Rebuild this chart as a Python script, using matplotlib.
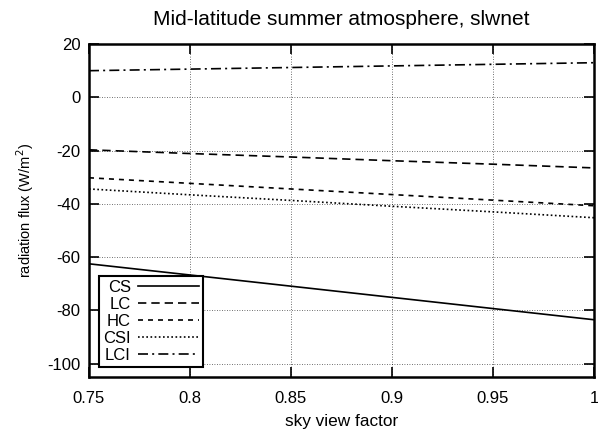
import numpy as np
import matplotlib.pyplot as plt

plt.rcParams['font.family'] = ['Liberation Sans', 'DejaVu Sans']
plt.rcParams['axes.unicode_minus'] = False

# sky view factor samples and net longwave flux per case (W/m^2)
svf = [0.75, 0.8, 0.85, 0.9, 0.95, 1.0]
cs = [-62.5, -66.7, -70.9, -75.1, -79.3, -83.5]
lc = [-19.7, -21.1, -22.4, -23.8, -25.1, -26.5]
hc = [-30.2, -32.3, -34.4, -36.5, -38.6, -40.7]
csi = [-34.4, -36.6, -38.7, -40.9, -43.0, -45.2]
lci = [10.0, 10.6, 11.2, 11.8, 12.4, 13.0]

series = [
    ("CS", cs, "-"),
    ("LC", lc, (0, (5, 3))),
    ("HC", hc, (0, (3, 3))),
    ("CSI", csi, (0, (1, 1.5))),
    ("LCI", lci, (0, (6, 2.5, 1.2, 2.5))),
]

fig = plt.figure(figsize=(5.98, 4.32), dpi=100)
ax = fig.add_axes([0.1488, 0.1273, 0.8445, 0.7707])

for name, vals, ls in series:
    ax.plot(svf, vals, color="black", linestyle=ls, linewidth=1.2, label=name)

ax.set_xlim(0.75, 1.0)
ax.set_ylim(-105, 20)
ax.set_xticks([0.75, 0.8, 0.85, 0.9, 0.95, 1.0])
ax.set_xticklabels(["0.75", "0.8", "0.85", "0.9", "0.95", "1"])
ax.set_yticks([20, 0, -20, -40, -60, -80, -100])

ax.grid(True, color="black", linestyle=(0, (1, 2)), linewidth=0.6, alpha=0.75)
ax.tick_params(direction="in", length=7, width=1.2, top=True, right=True,
               labelsize=12)
ax.tick_params(axis="x", pad=10)
ax.tick_params(axis="y", pad=6)
for s in ax.spines.values():
    s.set_linewidth(1.8)

ax.set_xlabel("sky view factor", fontsize=12.4, labelpad=6)
ax.set_ylabel("radiation flux (W/m$^2$)", fontsize=10.5, labelpad=8)
ax.set_title("Mid-latitude summer atmosphere, slwnet", fontsize=15, pad=14)

leg = ax.legend(loc="lower left", bbox_to_anchor=(0.02, 0.03), markerfirst=False,
                fontsize=12, fancybox=False, framealpha=1, edgecolor="black",
                borderpad=0.25, labelspacing=0.12, handlelength=3.7,
                handletextpad=0.4, borderaxespad=0)
leg.get_frame().set_linewidth(1.5)
for t in leg.get_texts():
    t.set_ha("right")

fig.savefig("out.png", dpi=100)
